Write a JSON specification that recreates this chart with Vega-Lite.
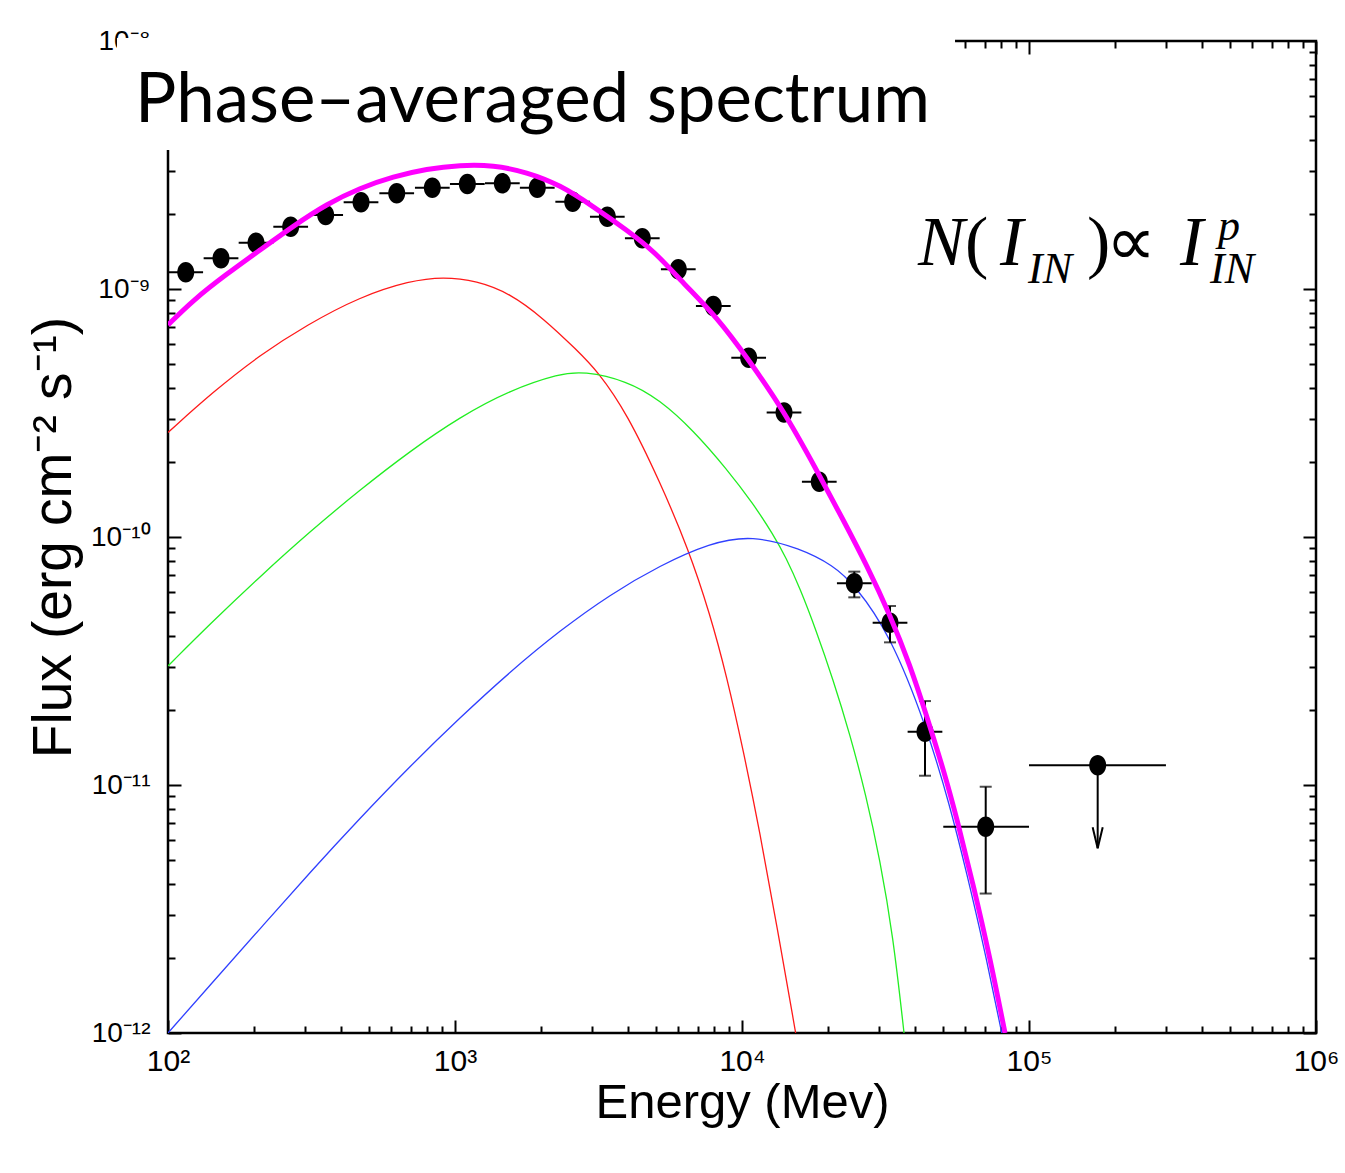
{
  "$schema": "https://vega.github.io/schema/vega-lite/v6.json",
  "width": 1148,
  "height": 992,
  "autosize": {"type": "none"},
  "padding": {"left": 168, "top": 41, "right": 29, "bottom": 140},
  "background": "white",
  "title": {
    "text": "Phase–averaged spectrum",
    "anchor": "start",
    "frame": "group",
    "orient": "top",
    "offset": -81,
    "baseline": "alphabetic",
    "dx": -33,
    "dy": 83,
    "font": "Lato",
    "fontSize": 69,
    "fontWeight": "normal",
    "color": "black"
  },
  "config": {
    "view": {"stroke": "black", "strokeWidth": 2.5},
    "axis": {"grid": false, "tickColor": "black", "labelColor": "black", "titleColor": "black"}
  },
  "resolve": {"axis": {"x": "independent", "y": "independent"}},
  "datasets": {
    "red": [
      {"E": 100, "F": 2.64e-10}, {"E": 143.8, "F": 3.854e-10}, {"E": 209.2, "F": 5.42e-10},
      {"E": 304.3, "F": 7.16e-10}, {"E": 466.7, "F": 9.31e-10}, {"E": 696.9, "F": 1.08e-9},
      {"E": 910.4, "F": 1.121e-9}, {"E": 1190, "F": 1.08e-9}, {"E": 1554, "F": 9.61e-10},
      {"E": 2031, "F": 7.62e-10}, {"E": 2655, "F": 5.68e-10}, {"E": 3157, "F": 4.63e-10},
      {"E": 3966, "F": 3.162e-10}, {"E": 5179, "F": 1.667e-10}, {"E": 6500, "F": 8.97e-11},
      {"E": 7737, "F": 4.89e-11}, {"E": 8845, "F": 2.75e-11}, {"E": 10104, "F": 1.38e-11},
      {"E": 11553, "F": 6.41e-12}, {"E": 13210, "F": 2.73e-12}, {"E": 15380, "F": 1e-12}
    ],
    "green": [
      {"E": 100, "F": 3.02e-11}, {"E": 140.1, "F": 4.46e-11}, {"E": 209.2, "F": 6.93e-11},
      {"E": 312.4, "F": 1.052e-10}, {"E": 466.7, "F": 1.55e-10}, {"E": 696.9, "F": 2.22e-10},
      {"E": 1041, "F": 3.05e-10}, {"E": 1554, "F": 3.91e-10}, {"E": 2322, "F": 4.56e-10},
      {"E": 2799, "F": 4.66e-10}, {"E": 3966, "F": 4.27e-10}, {"E": 5179, "F": 3.57e-10},
      {"E": 6766, "F": 2.69e-10}, {"E": 8845, "F": 1.88e-10}, {"E": 10950, "F": 1.36e-10},
      {"E": 12855, "F": 1.022e-10}, {"E": 14230, "F": 8.27e-11}, {"E": 15924, "F": 6.21e-11},
      {"E": 18100, "F": 4.22e-11}, {"E": 20750, "F": 2.67e-11}, {"E": 23780, "F": 1.6e-11},
      {"E": 27050, "F": 9.08e-12}, {"E": 30250, "F": 4.99e-12}, {"E": 33580, "F": 2.48e-12},
      {"E": 36690, "F": 1e-12}
    ],
    "blue": [
      {"E": 100, "F": 1e-12}, {"E": 140.1, "F": 1.56e-12}, {"E": 209.2, "F": 2.63e-12},
      {"E": 312.4, "F": 4.44e-12}, {"E": 466.7, "F": 7.35e-12}, {"E": 696.9, "F": 1.19e-11},
      {"E": 1041, "F": 1.87e-11}, {"E": 1554, "F": 2.86e-11}, {"E": 2322, "F": 4.2e-11},
      {"E": 3468, "F": 5.86e-11}, {"E": 5179, "F": 7.68e-11}, {"E": 7737, "F": 9.46e-11},
      {"E": 10835, "F": 1.017e-10}, {"E": 15924, "F": 9.01e-11}, {"E": 20800, "F": 7.68e-11},
      {"E": 24620, "F": 6.44e-11}, {"E": 32790, "F": 4.06e-11}, {"E": 44010, "F": 1.71e-11},
      {"E": 53050, "F": 8.23e-12}, {"E": 60660, "F": 4.42e-12}, {"E": 69310, "F": 2.29e-12},
      {"E": 80350, "F": 1e-12}
    ],
    "magenta": [
      {"E": 100, "F": 7.16e-10}, {"E": 122.5, "F": 9.03e-10}, {"E": 160.1, "F": 1.149e-9},
      {"E": 209.2, "F": 1.436e-9}, {"E": 273.3, "F": 1.795e-9}, {"E": 357.3, "F": 2.2e-9},
      {"E": 466.7, "F": 2.555e-9}, {"E": 609.5, "F": 2.84e-9}, {"E": 797, "F": 3.05e-9},
      {"E": 1041, "F": 3.162e-9}, {"E": 1359, "F": 3.162e-9}, {"E": 1777, "F": 2.96e-9},
      {"E": 2322, "F": 2.63e-9}, {"E": 3033, "F": 2.15e-9}, {"E": 3966, "F": 1.73e-9},
      {"E": 4977, "F": 1.41e-9}, {"E": 6245, "F": 1.054e-9}, {"E": 8162, "F": 7.73e-10},
      {"E": 10665, "F": 5.09e-10}, {"E": 13930, "F": 3.25e-10}, {"E": 18210, "F": 1.86e-10},
      {"E": 22540, "F": 1.17e-10}, {"E": 27190, "F": 7.71e-11}, {"E": 32790, "F": 4.85e-11},
      {"E": 38490, "F": 3.05e-11}, {"E": 44010, "F": 1.9e-11}, {"E": 50960, "F": 1.1e-11},
      {"E": 55980, "F": 7.36e-12}, {"E": 63970, "F": 3.95e-12}, {"E": 73130, "F": 2.01e-12},
      {"E": 82490, "F": 1e-12}
    ],
    "pts": [
      {"E": 115.3, "F": 1.168e-9, "Elo": 100.3, "Ehi": 132.5},
      {"E": 153.0, "F": 1.33e-9, "Elo": 133.1, "Ehi": 175.9},
      {"E": 202.6, "F": 1.537e-9, "Elo": 176.3, "Ehi": 232.9},
      {"E": 267.6, "F": 1.783e-9, "Elo": 232.8, "Ehi": 307.6},
      {"E": 354.3, "F": 1.988e-9, "Elo": 308.2, "Ehi": 407.3},
      {"E": 470.5, "F": 2.236e-9, "Elo": 409.3, "Ehi": 540.8},
      {"E": 626.5, "F": 2.431e-9, "Elo": 545.0, "Ehi": 720.2},
      {"E": 833.6, "F": 2.562e-9, "Elo": 725.2, "Ehi": 958.2},
      {"E": 1104, "F": 2.651e-9, "Elo": 960.4, "Ehi": 1269},
      {"E": 1462, "F": 2.668e-9, "Elo": 1272, "Ehi": 1681},
      {"E": 1935, "F": 2.562e-9, "Elo": 1683, "Ehi": 2224},
      {"E": 2571, "F": 2.249e-9, "Elo": 2237, "Ehi": 2955},
      {"E": 3394, "F": 1.956e-9, "Elo": 2953, "Ehi": 3901},
      {"E": 4493, "F": 1.601e-9, "Elo": 3909, "Ehi": 5165},
      {"E": 5998, "F": 1.2e-9, "Elo": 5218, "Ehi": 6895},
      {"E": 7943, "F": 8.54e-10, "Elo": 6910, "Ehi": 9131},
      {"E": 10550, "F": 5.28e-10, "Elo": 9178, "Ehi": 12127},
      {"E": 14010, "F": 3.18e-10, "Elo": 12188, "Ehi": 16104},
      {"E": 18590, "F": 1.67e-10, "Elo": 16172, "Ehi": 21369},
      {"E": 24620, "F": 6.51e-11, "Elo": 21418, "Ehi": 28301, "Flo": 5.71e-11, "Fhi": 7.25e-11},
      {"E": 32790, "F": 4.51e-11, "Elo": 28525, "Ehi": 37692, "Flo": 3.76e-11, "Fhi": 5.27e-11},
      {"E": 43410, "F": 1.64e-11, "Elo": 37764, "Ehi": 49900, "Flo": 1.09e-11, "Fhi": 2.18e-11},
      {"E": 70660, "F": 6.79e-12, "Elo": 50270, "Ehi": 100000, "Flo": 3.65e-12, "Fhi": 9.84e-12}
    ],
    "ul": [{"E": 173500, "F": 1.2e-11, "Elo": 100000, "Ehi": 300000, "Ftip": 5.56e-12}],
    "titlebox": [{"E1": 66.4, "E2": 55240, "F1": 3.634e-9, "F2": 1.0283e-8}],
    "eqitalic": [
      {"t": "N", "E": 41040, "F": 1.249e-9}, {"t": "I", "E": 79250, "F": 1.249e-9},
      {"t": "I", "E": 335900, "F": 1.249e-9}
    ],
    "equpright": [
      {"t": "(", "E": 59840, "F": 1.249e-9}, {"t": ")", "E": 159200, "F": 1.249e-9},
      {"t": "∝", "E": 186000, "F": 1.249e-9}
    ],
    "eqsmall": [
      {"t": "IN", "E": 99200, "F": 1.057e-9}, {"t": "IN", "E": 427200, "F": 1.057e-9},
      {"t": "p", "E": 455500, "F": 1.576e-9}
    ]
  },
  "layer": [
    {
      "data": {"name": "red"},
      "mark": {"type": "line", "color": "#ff1a1a", "strokeWidth": 1.3, "interpolate": "basis", "clip": true},
      "encoding": {
        "x": {"field": "E", "type": "quantitative", "scale": {"type": "log", "domain": [100, 1000000]},
          "axis": {"orient": "bottom", "ticks": false, "domain": false, "values": [100, 1000, 10000, 100000, 1000000],
            "labelExpr": "'10' + (round(log(datum.value)/LN10) == 2 ? '²' : round(log(datum.value)/LN10) == 3 ? '³' : round(log(datum.value)/LN10) == 4 ? '⁴' : round(log(datum.value)/LN10) == 5 ? '⁵' : '⁶')",
            "labelFont": "Liberation Sans Narrow, Liberation Sans", "labelFontSize": 30, "labelPadding": 13, "labelFlush": false, "labelOverlap": false,
            "title": "Energy (Mev)", "titleFont": "Liberation Sans", "titleFontSize": 49, "titleFontWeight": "normal", "titlePadding": 2}},
        "y": {"field": "F", "type": "quantitative", "scale": {"type": "log", "domain": [1e-12, 1e-8]},
          "axis": {"orient": "left", "ticks": false, "domain": false, "values": [1e-12, 1e-11, 1e-10, 1e-9, 1e-8],
            "labelExpr": "'10' + (round(log(datum.value)/LN10) == -12 ? '⁻¹²' : round(log(datum.value)/LN10) == -11 ? '⁻¹¹' : round(log(datum.value)/LN10) == -10 ? '⁻¹⁰' : round(log(datum.value)/LN10) == -9 ? '⁻⁹' : '⁻⁸')",
            "labelFont": "Liberation Sans Narrow, Liberation Sans", "labelFontSize": 28, "labelPadding": 18, "labelFlush": false, "labelOverlap": false, "labelBaseline": "middle",
            "title": "Flux (erg cm⁻² s⁻¹)", "titleFont": "Liberation Sans", "titleFontSize": 55, "titleFontWeight": "normal", "titlePadding": 8}}
      }
    },
    {
      "data": {"name": "green"},
      "mark": {"type": "line", "color": "#22ee22", "strokeWidth": 1.3, "interpolate": "basis", "clip": true},
      "encoding": {
        "x": {"field": "E", "type": "quantitative", "scale": {"type": "log", "domain": [100, 1000000]},
          "axis": {"orient": "bottom", "labels": false, "domain": false, "values": [100, 1000, 10000, 100000, 1000000], "tickSize": -13, "tickWidth": 2, "title": null}},
        "y": {"field": "F", "type": "quantitative", "scale": {"type": "log", "domain": [1e-12, 1e-8]},
          "axis": {"orient": "left", "labels": false, "domain": false, "values": [1e-12, 1e-11, 1e-10, 1e-9, 1e-8], "tickSize": -13, "tickWidth": 2, "title": null}}
      }
    },
    {
      "data": {"name": "blue"},
      "mark": {"type": "line", "color": "#3040ff", "strokeWidth": 1.3, "interpolate": "basis", "clip": true},
      "encoding": {
        "x": {"field": "E", "type": "quantitative", "scale": {"type": "log", "domain": [100, 1000000]},
          "axis": {"orient": "bottom", "labels": false, "domain": false, "tickSize": -7, "tickWidth": 2, "title": null,
            "values": [200, 300, 400, 500, 600, 700, 800, 900, 2000, 3000, 4000, 5000, 6000, 7000, 8000, 9000, 20000, 30000, 40000, 50000, 60000, 70000, 80000, 90000, 200000, 300000, 400000, 500000, 600000, 700000, 800000, 900000]}},
        "y": {"field": "F", "type": "quantitative", "scale": {"type": "log", "domain": [1e-12, 1e-8]},
          "axis": {"orient": "left", "labels": false, "domain": false, "tickSize": -7, "tickWidth": 2, "title": null,
            "values": [2e-12, 3e-12, 4e-12, 5e-12, 6e-12, 7e-12, 8e-12, 9e-12, 2e-11, 3e-11, 4e-11, 5e-11, 6e-11, 7e-11, 8e-11, 9e-11, 2e-10, 3e-10, 4e-10, 5e-10, 6e-10, 7e-10, 8e-10, 9e-10, 2e-9, 3e-9, 4e-9, 5e-9, 6e-9, 7e-9, 8e-9, 9e-9]}}
      }
    },
    {
      "data": {"name": "pts"},
      "mark": {"type": "rule", "color": "black", "strokeWidth": 2},
      "encoding": {
        "x": {"field": "Elo", "type": "quantitative", "scale": {"type": "log", "domain": [100, 1000000]},
          "axis": {"orient": "top", "labels": false, "domain": false, "values": [100, 1000, 10000, 100000, 1000000], "tickSize": -13, "tickWidth": 2, "title": null}},
        "x2": {"field": "Ehi"},
        "y": {"field": "F", "type": "quantitative", "scale": {"type": "log", "domain": [1e-12, 1e-8]},
          "axis": {"orient": "right", "labels": false, "domain": false, "values": [1e-12, 1e-11, 1e-10, 1e-9, 1e-8], "tickSize": -13, "tickWidth": 2, "title": null}}
      }
    },
    {
      "data": {"name": "pts"},
      "transform": [{"filter": "isValid(datum.Flo)"}],
      "mark": {"type": "rule", "color": "black", "strokeWidth": 2},
      "encoding": {
        "x": {"field": "E", "type": "quantitative", "scale": {"type": "log", "domain": [100, 1000000]},
          "axis": {"orient": "top", "labels": false, "domain": false, "tickSize": -7, "tickWidth": 2, "title": null,
            "values": [200, 300, 400, 500, 600, 700, 800, 900, 2000, 3000, 4000, 5000, 6000, 7000, 8000, 9000, 20000, 30000, 40000, 50000, 60000, 70000, 80000, 90000, 200000, 300000, 400000, 500000, 600000, 700000, 800000, 900000]}},
        "y": {"field": "Flo", "type": "quantitative", "scale": {"type": "log", "domain": [1e-12, 1e-8]},
          "axis": {"orient": "right", "labels": false, "domain": false, "tickSize": -7, "tickWidth": 2, "title": null,
            "values": [2e-12, 3e-12, 4e-12, 5e-12, 6e-12, 7e-12, 8e-12, 9e-12, 2e-11, 3e-11, 4e-11, 5e-11, 6e-11, 7e-11, 8e-11, 9e-11, 2e-10, 3e-10, 4e-10, 5e-10, 6e-10, 7e-10, 8e-10, 9e-10, 2e-9, 3e-9, 4e-9, 5e-9, 6e-9, 7e-9, 8e-9, 9e-9]}},
        "y2": {"field": "Fhi"}
      }
    },
    {
      "data": {"name": "pts"},
      "transform": [{"filter": "isValid(datum.Flo)"}],
      "mark": {"type": "tick", "color": "black", "orient": "horizontal", "size": 12, "thickness": 2},
      "encoding": {
        "x": {"field": "E", "type": "quantitative", "scale": {"type": "log", "domain": [100, 1000000]}, "axis": null},
        "y": {"field": "Flo", "type": "quantitative", "scale": {"type": "log", "domain": [1e-12, 1e-8]}, "axis": null}
      }
    },
    {
      "data": {"name": "pts"},
      "transform": [{"filter": "isValid(datum.Fhi)"}],
      "mark": {"type": "tick", "color": "black", "orient": "horizontal", "size": 12, "thickness": 2},
      "encoding": {
        "x": {"field": "E", "type": "quantitative", "scale": {"type": "log", "domain": [100, 1000000]}, "axis": null},
        "y": {"field": "Fhi", "type": "quantitative", "scale": {"type": "log", "domain": [1e-12, 1e-8]}, "axis": null}
      }
    },
    {
      "data": {"name": "pts"},
      "mark": {"type": "point", "shape": "M-0.83,0A0.83,1,0,1,0,0.83,0A0.83,1,0,1,0,-0.83,0Z", "size": 420, "filled": true, "color": "black", "opacity": 1},
      "encoding": {
        "x": {"field": "E", "type": "quantitative", "scale": {"type": "log", "domain": [100, 1000000]}, "axis": null},
        "y": {"field": "F", "type": "quantitative", "scale": {"type": "log", "domain": [1e-12, 1e-8]}, "axis": null}
      }
    },
    {
      "data": {"name": "ul"},
      "mark": {"type": "rule", "color": "black", "strokeWidth": 2},
      "encoding": {
        "x": {"field": "Elo", "type": "quantitative", "scale": {"type": "log", "domain": [100, 1000000]}, "axis": null},
        "x2": {"field": "Ehi"},
        "y": {"field": "F", "type": "quantitative", "scale": {"type": "log", "domain": [1e-12, 1e-8]}, "axis": null}
      }
    },
    {
      "data": {"name": "ul"},
      "mark": {"type": "rule", "color": "black", "strokeWidth": 2},
      "encoding": {
        "x": {"field": "E", "type": "quantitative", "scale": {"type": "log", "domain": [100, 1000000]}, "axis": null},
        "y": {"field": "F", "type": "quantitative", "scale": {"type": "log", "domain": [1e-12, 1e-8]}, "axis": null},
        "y2": {"field": "Ftip"}
      }
    },
    {
      "data": {"name": "ul"},
      "mark": {"type": "point", "shape": "M-0.83,0A0.83,1,0,1,0,0.83,0A0.83,1,0,1,0,-0.83,0Z", "size": 420, "filled": true, "color": "black", "opacity": 1},
      "encoding": {
        "x": {"field": "E", "type": "quantitative", "scale": {"type": "log", "domain": [100, 1000000]}, "axis": null},
        "y": {"field": "F", "type": "quantitative", "scale": {"type": "log", "domain": [1e-12, 1e-8]}, "axis": null}
      }
    },
    {
      "data": {"name": "ul"},
      "mark": {"type": "point", "shape": "M-0.24,-1L0,0L0.24,-1", "size": 1764, "filled": false, "stroke": "black", "strokeWidth": 2, "opacity": 1},
      "encoding": {
        "x": {"field": "E", "type": "quantitative", "scale": {"type": "log", "domain": [100, 1000000]}, "axis": null},
        "y": {"field": "Ftip", "type": "quantitative", "scale": {"type": "log", "domain": [1e-12, 1e-8]}, "axis": null}
      }
    },
    {
      "data": {"name": "magenta"},
      "mark": {"type": "line", "color": "#ff00ff", "strokeWidth": 5, "interpolate": "basis", "clip": true},
      "encoding": {
        "x": {"field": "E", "type": "quantitative", "scale": {"type": "log", "domain": [100, 1000000]}, "axis": null},
        "y": {"field": "F", "type": "quantitative", "scale": {"type": "log", "domain": [1e-12, 1e-8]}, "axis": null}
      }
    },
    {
      "data": {"name": "titlebox"},
      "mark": {"type": "rect", "color": "white", "opacity": 1, "clip": false},
      "encoding": {
        "x": {"field": "E1", "type": "quantitative", "scale": {"type": "log", "domain": [100, 1000000]}, "axis": null},
        "x2": {"field": "E2"},
        "y": {"field": "F1", "type": "quantitative", "scale": {"type": "log", "domain": [1e-12, 1e-8]}, "axis": null},
        "y2": {"field": "F2"}
      }
    },
    {
      "data": {"name": "eqitalic"},
      "mark": {"type": "text", "font": "Liberation Serif", "fontStyle": "italic", "fontSize": 70, "align": "left", "baseline": "alphabetic", "color": "black"},
      "encoding": {
        "x": {"field": "E", "type": "quantitative", "scale": {"type": "log", "domain": [100, 1000000]}, "axis": null},
        "y": {"field": "F", "type": "quantitative", "scale": {"type": "log", "domain": [1e-12, 1e-8]}, "axis": null},
        "text": {"field": "t"}
      }
    },
    {
      "data": {"name": "equpright"},
      "mark": {"type": "text", "font": "Liberation Serif", "fontSize": 70, "align": "left", "baseline": "alphabetic", "color": "black"},
      "encoding": {
        "x": {"field": "E", "type": "quantitative", "scale": {"type": "log", "domain": [100, 1000000]}, "axis": null},
        "y": {"field": "F", "type": "quantitative", "scale": {"type": "log", "domain": [1e-12, 1e-8]}, "axis": null},
        "text": {"field": "t"}
      }
    },
    {
      "data": {"name": "eqsmall"},
      "mark": {"type": "text", "font": "Liberation Serif", "fontStyle": "italic", "fontSize": 44, "align": "left", "baseline": "alphabetic", "color": "black"},
      "encoding": {
        "x": {"field": "E", "type": "quantitative", "scale": {"type": "log", "domain": [100, 1000000]}, "axis": null},
        "y": {"field": "F", "type": "quantitative", "scale": {"type": "log", "domain": [1e-12, 1e-8]}, "axis": null},
        "text": {"field": "t"}
      }
    }
  ]
}
